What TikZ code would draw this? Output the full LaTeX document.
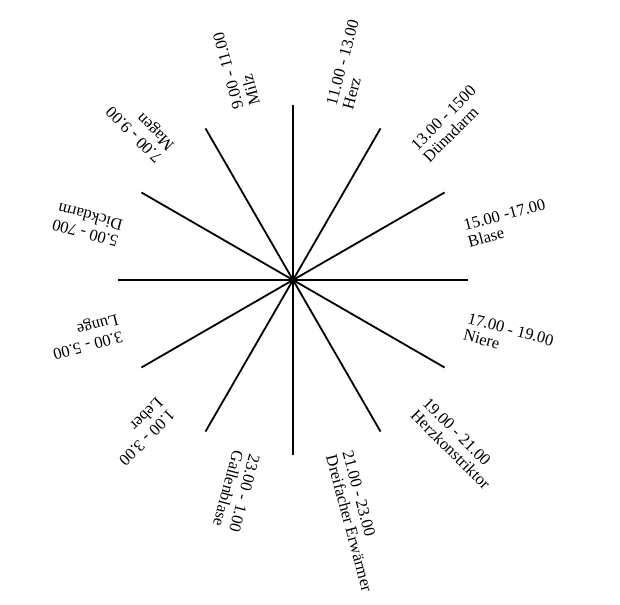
\documentclass[tikz,border=0pt]{standalone}
\usepackage{fontspec}
\setmainfont{Liberation Serif}
\begin{document}
\begin{tikzpicture}[x=1pt,y=1pt,
  spoke/.style={line width=1.8pt},
  lbl/.style={anchor=west, inner sep=0pt, align=left, font=\fontsize{16.5}{17}\selectfont}]
\useasboundingbox (0,0) rectangle (620,604);
\coordinate (c) at (293,324);
\foreach \a in {0,30,...,330} {
  \path (c) ++(\a:175) coordinate (e\a);
  \draw[spoke] (c) -- (e\a);
}
\foreach \a/\t/\o in {75/11.00 - 13.00/Herz,
                      45/13.00 - 1500/Dünndarm,
                      15/15.00 -17.00/Blase,
                      -15/17.00 - 19.00/Niere,
                      -45/19.00 - 21.00/Herzkonstriktor,
                      -75/21.00 - 23.00/Dreifacher Erwärmer,
                      -105/23.00 - 1.00/Gallenblase,
                      -135/1.00 - 3.00/Leber,
                      -165/3.00 - 5.00/Lunge,
                      165/5.00 - 700/Dickdarm,
                      135/7.00 - 9.00/Magen,
                      105/9.00 - 11.00/Milz} {
  \path (c) ++(\a:179) coordinate (p\a);
  \node[lbl, rotate=\a] (l\a) at (p\a) {\t\\\o};
}
\end{tikzpicture}
\end{document}
